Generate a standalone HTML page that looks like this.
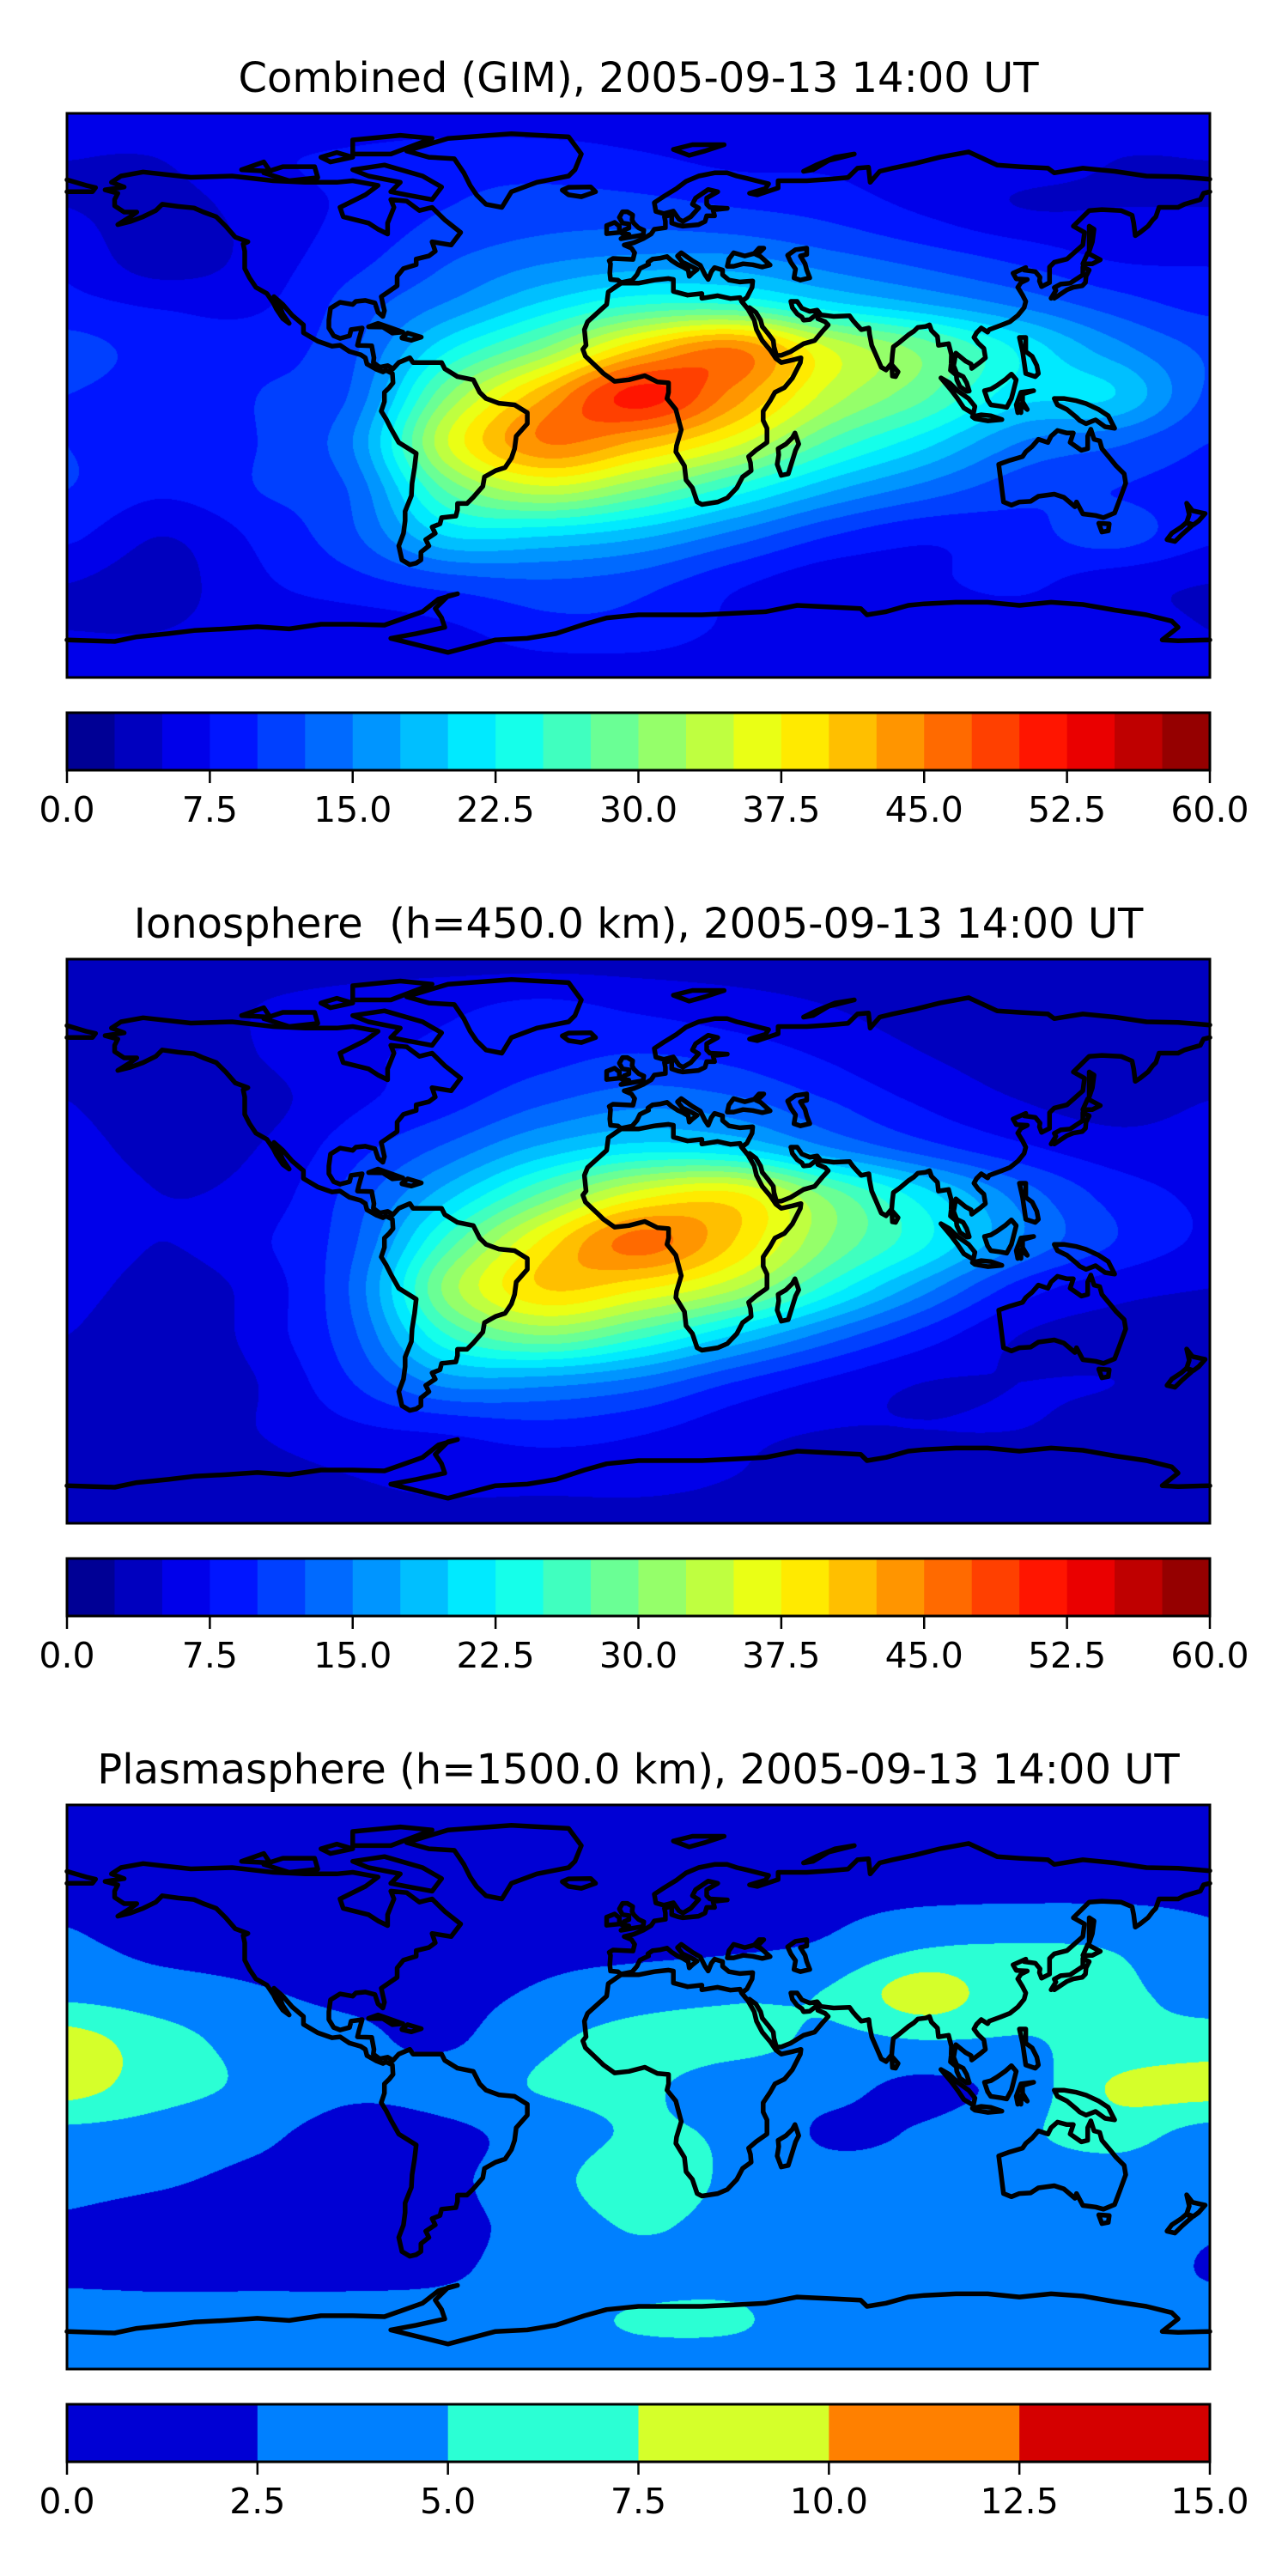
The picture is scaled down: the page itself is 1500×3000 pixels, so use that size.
<!DOCTYPE html>
<html><head><meta charset="utf-8">
<style>
html,body{margin:0;padding:0;background:#fff;}
body{width:1500px;height:3000px;position:relative;overflow:hidden;font-family:"DejaVu Sans","Liberation Sans",sans-serif;}
canvas{position:absolute;left:78px;}
svg{position:absolute;left:0;top:0;}
</style></head>
<body>
<canvas id="c0" width="1331" height="657" style="top:132px"></canvas>
<canvas id="c1" width="1331" height="657" style="top:1117px"></canvas>
<canvas id="c2" width="1331" height="657" style="top:2102px"></canvas>
<svg id="ov" width="1500" height="3000">
<text x="743.5" y="107" text-anchor="middle" font-size="48">Combined (GIM), 2005-09-13 14:00 UT</text>
<text x="743.5" y="1092" text-anchor="middle" font-size="48" xml:space="preserve">Ionosphere  (h=450.0 km), 2005-09-13 14:00 UT</text>
<text x="743.5" y="2077" text-anchor="middle" font-size="48">Plasmasphere (h=1500.0 km), 2005-09-13 14:00 UT</text>
</svg>
<script>
// grid lats 90..-90 step 15 (rows), lons -180..180 step 30 (cols)
const gridLats=[90,75,60,45,30,15,0,-15,-30,-45,-60,-75,-90];
const gridLons=[-180,-150,-120,-90,-60,-30,0,30,60,90,120,150,180];
const combinedTEC=[
[6,6,6,6,6,6,6,6,6,6,6,6,6],
[5,5,7,8,9,9,8,7,7,6,6,5,5],
[5,4,6,8,10,11,11,10,9,7,5,5,5],
[7,3,6,9,12,14,15,15,13,11,9,7,7],
[8,7,7,11,15,20,24,24,20,17,14,11,9],
[11,9,9,12,22,30,40,45,35,29,22,16,12],
[10,9,10,13,30,42,51,44,34,28,21,20,12],
[10,9,10,15,35,45,42,36,27,21,15,13,10],
[10,8,10,13,28,34,30,24,18,14,11,10,9],
[8,5,8,12,20,20,18,14,10,8,9,11,8],
[5,4,7,9,11,12,11,8,6,7,8,6,5],
[5,5,6,6,7,9,9,7,6,6,6,6,5],
[6,6,6,6,6,6,6,6,6,6,6,6,6]];
const ionoTEC=[
[4,4,4,4,4,4,4,4,4,4,4,4,4],
[4,4,5,6,7,8,7,6,5,4,4,4,4],
[4,3,5,7,8,9,10,9,7,5,4,3,4],
[5,3,4,7,9,12,14,13,10,7,5,4,5],
[6,4,5,9,13,18,21,20,15,11,8,6,6],
[7,5,6,11,19,28,36,38,29,21,14,9,7],
[7,5,7,12,26,38,46,40,30,23,15,10,7],
[6,4,6,13,31,40,38,33,24,16,9,6,5],
[5,3,6,12,25,30,26,20,14,9,5,4,4],
[4,3,5,10,16,16,14,10,7,5,5,5,4],
[3,3,5,7,8,9,8,6,5,5,5,4,3],
[3,3,4,5,6,6,6,5,4,4,3,3,3],
[4,4,4,4,4,4,4,4,4,4,4,4,4]];
const plasmaTEC=[
[1.5,1.5,1.5,1.5,1.5,1.5,1.5,1.5,1.5,1.5,1.5,1.5,1.5],
[1.5,1.5,1.5,1.5,1.5,1.5,1.5,1.5,1.5,1.5,1.5,1.5,1.5],
[2.2,2,2,2,2,2,2,2,2,2.2,2.3,2.3,2.2],
[2.8,2,1.8,1.5,1.5,2,2,2.2,2.8,4.8,5.1,4.8,3],
[4.3,3.5,2.7,2,1.8,2.8,3.8,4.5,5.2,8.8,5.5,5.5,4],
[8.5,6,4,3,2.2,4.5,6,6,4.5,5,4.9,5.5,6],
[8.5,6,4.5,3,3.5,5.2,5.5,3.5,3.2,2,3.5,7.8,8.5],
[4.3,3.8,3,1.5,2,3.5,5.3,4.5,2.2,2.8,4.5,6,4],
[3,2.7,2,1.5,2.1,4,6.5,4.5,3.5,3.5,3.5,3.7,3.5],
[2.3,1.8,1.5,1.5,2,3.3,5.2,4,3.2,3.2,3.5,3.5,2.7],
[2.2,2,2,2,2.3,3.5,4,4.2,3.5,3.5,3.5,3.5,2.4],
[3.5,3.5,3.5,3.5,3.5,3.8,5.3,5.3,3.5,3.5,3.5,3.5,3.5],
[3.5,3.5,3.5,3.5,3.5,3.5,3.5,3.5,3.5,3.5,3.5,3.5,3.5]];
const cbTicks60=["0.0","7.5","15.0","22.5","30.0","37.5","45.0","52.5","60.0"];
const cbTicks15=["0.0","2.5","5.0","7.5","10.0","12.5","15.0"];

const coast=[
[[-166,68],[-163,70],[-156,71.3],[-141,69.6],[-128,70],[-115,68.5],[-105,68],[-95,68],[-90,68.5],[-82,67],[-86,64],[-94,60],[-93,57],[-85,55],[-82,53],[-79,51.5],[-79,55],[-77,60],[-78,62.5],[-73,62],[-69,59],[-65,60],[-61,56],[-56,52],[-59,48],[-65,49],[-64,46],[-66,44.5],[-70,43.5],[-70,41.7],[-74,40.5],[-76,38],[-76,35],[-81,31.5],[-80,27],[-80.5,25.2],[-82,26.5],[-83,29.5],[-86,30.3],[-89,30],[-90,29],[-94,29.7],[-97,27.8],[-97.5,24],[-97.5,21.5],[-96,19],[-94,18.2],[-91,19],[-90.5,21],[-87,21.5],[-88,18],[-88.5,16],[-84,15.8],[-83.3,12],[-83.5,10.5],[-81.5,9],[-79,9.5],[-77.3,8.5],[-75.5,10.5],[-72,12],[-71,10.5],[-68,10.5],[-62,10.5],[-61,8.5],[-57,6],[-52,5],[-50,1],[-48,-1],[-44,-2.5],[-39,-3],[-35,-5.5],[-35,-9],[-38.5,-13],[-39,-17],[-40,-20],[-42,-23],[-45,-24],[-48.5,-26],[-49,-29],[-52,-32.5],[-54,-34.5],[-57,-34.5],[-57,-36.5],[-57.5,-38.5],[-62,-39],[-62.5,-41],[-65,-42],[-64,-44],[-67,-46],[-66,-48],[-68.5,-50],[-68.5,-52.5],[-70,-53.5],[-72,-54],[-74.5,-52.5],[-75.5,-48],[-74,-44],[-73.5,-40],[-73.5,-37],[-71.5,-32],[-71.3,-28],[-70.5,-23],[-70,-18.5],[-75.5,-15],[-78,-10.5],[-79.5,-7.5],[-81,-5],[-80,-2],[-80,1],[-78.5,2.5],[-77.3,4],[-77.5,7],[-79.5,8],[-80.5,7.5],[-82.5,8.3],[-85.5,10],[-86,12],[-87.5,13],[-91,14],[-94,16],[-96.5,15.7],[-101,17.3],[-105.5,20],[-105.5,22.5],[-109,25.5],[-112,29],[-114.8,31.5],[-113,28.5],[-112,26],[-110,23],[-112,24.5],[-114,27.5],[-115,29.5],[-117,32.5],[-120.5,34.5],[-122.5,37.5],[-124,40.5],[-124,46],[-124.5,48.3],[-123,49],[-127,50.5],[-130,54],[-133,57],[-137,58.5],[-140,59.8],[-145,60.3],[-150,61],[-152,59],[-156,57],[-160,55.5],[-164,54.5],[-160,57],[-158,58.5],[-162,58.5],[-165,60.5],[-165,62.5],[-164,64.5],[-168,65.6],[-162,66.5],[-166,68]],
[[-73,78],[-60,82],[-40,83.5],[-22,82.5],[-18,77],[-20,72],[-22,70],[-32,68],[-40,65],[-43,60],[-48,61],[-51,64],[-53,67],[-55,71],[-58,75.5],[-66,76],[-73,78]],
[[-80,73.5],[-68,70],[-62,66.5],[-65,62.5],[-73,64],[-78,65],[-75,68],[-85,70],[-90,72],[-80,73.5]],
[[-118,71],[-112,73],[-102,73],[-101,69.5],[-110,68.5],[-118,71]],
[[-90,77],[-78,77],[-65,82],[-75,83],[-90,81.5],[-90,77]],
[[-125,72],[-118,74.5],[-116,71.5],[-125,72]],
[[-100,76],[-95,77.5],[-90,76],[-97,74.5],[-100,76]],
[[-5.5,35.8],[-9.5,33],[-10,29],[-16,23.5],[-17,21],[-16.5,16],[-17.5,14.7],[-16.7,12.5],[-13,9],[-11,7],[-7.5,4.5],[-3,5],[2,6.3],[6,4.3],[9.5,4],[9.5,1],[9,-1],[11.8,-4.5],[12.3,-6.5],[13.5,-11],[12,-16],[11.8,-18],[14.5,-22.5],[15,-27],[17,-29.5],[18.5,-34],[20,-34.8],[25,-34],[28,-32.7],[31,-29.5],[32.8,-26],[35.5,-24],[35.3,-21.5],[34.7,-19.5],[37,-17.5],[40.5,-15],[40.5,-10.5],[39.3,-8],[39.3,-5],[41.5,-1.7],[43,1],[46,2.5],[48.5,5.5],[51,10.5],[51.2,12],[48.5,11.3],[45,10.5],[43.3,11.8],[41.5,14.5],[39,17.5],[37.2,21],[36.5,24],[34.5,27.5],[32.5,30],[32,31.2],[29,30.9],[25,31.8],[20,31],[20,32.5],[15.5,32],[11,33.2],[11,37],[9.5,37.3],[5,36.8],[0,35.8],[-5.5,35.8]],
[[32.5,30],[34.2,31.3],[35.8,34.5],[36,36.5],[32,36.2],[28.5,36.8],[26.5,38.5],[26.5,40],[24,40.8],[23,39.5],[22,37],[21,38.5],[19.5,41.5],[17,43],[13.5,45.5],[12.3,44.5],[13.9,42.5],[16,41.5],[18.5,40.2],[17,39],[16,38],[15.7,40],[14,41],[12.5,41.7],[10.5,43],[9,44.3],[7,43.8],[4.5,43.5],[3,42.5],[3.2,41.8],[0.5,40.5],[-0.5,38.5],[-2,36.7],[-5.5,36],[-6.5,36.8],[-8.8,37],[-9,39],[-8.8,42],[-9.2,43],[-8,43.7],[-1.7,43.4],[-1.2,45.5],[-2.2,47],[-4.5,48],[-1.5,48.7],[1.5,50],[4,51.5],[5,53],[8.5,53.5],[8.5,55.5],[8.2,57],[10.5,57.7],[10.5,55],[12.5,54.3],[14,54],[19,54.5],[21,55.5],[21.5,57.3],[24,57.3],[23.5,59.2],[28,59.7],[22.5,60],[21.5,61],[21.5,63],[25,65],[22,65.7],[18,63],[17,61],[19,59.8],[16.5,57],[14,55.5],[12.8,56.2],[11,58.8],[8,58],[5.5,58.7],[5,61.5],[8,63.5],[12,66],[15,68.3],[19,70],[24,71],[28,71],[31,70],[34,69.3],[41,67.5],[40,66],[35,64.5],[37.5,64],[44,66.2],[44,68.5],[53,68.5],[60,69],[66,69.5],[69,72.5],[72.5,72.8],[73,68],[76,71.5],[80,72.5],[87,74],[95,76],[104,77.7],[113,73.5],[120,73],[129,72.5],[131,71],[140,72.5],[150,71.5],[160,70],[170,69.8],[180,69]],
[[180,65],[178,64.5],[177,62.5],[172,61],[170,60],[164,60],[163,57],[162,56],[160.5,54],[158,52],[156.5,51],[156,55],[155.5,57.5],[152,59],[146,59.3],[142,59],[137,54],[140.5,52],[140,48],[135,43.5],[131,42.5],[129.5,41],[129.5,36],[127,34.7],[126.3,36.5],[126.5,37.7],[125,39.5],[121.5,40],[122,40.8],[118,39],[119,37.2],[122.5,37],[120.5,36],[119.5,34.5],[121,32],[122,30],[121.5,28],[119.5,25.5],[117,23.5],[114,22.3],[110.5,21],[110,20.2],[108,21.5],[106.5,20],[105.7,18.5],[107,16.7],[108.8,15],[109.3,12],[107.5,10.5],[105,8.6],[104.8,10],[103,11],[100,13.5],[99.3,9.5],[100.3,7],[102.3,6],[103.4,4],[104.2,1.4],[103.4,1.3],[101.3,2.8],[100.3,5],[100.1,6.5],[98.3,8],[98.5,10],[98.6,13],[97.7,16.5],[94.5,16],[94.2,18.8],[92.3,20.7],[91.7,22.5],[90.5,22],[88,21.7],[86.8,20.5],[85,19.3],[82.3,17],[80.3,15.5],[80,13],[79.8,10.3],[78,8.1],[76.5,9],[75,12.5],[73.5,16],[72.8,19.5],[72.6,21.5],[70.2,21],[68.8,22.5],[67.5,24],[66.5,25.4],[61.5,25.2],[57.5,25.7],[56.3,27.2],[54,26.8],[51.5,27.8],[50,30],[48,30],[48.5,28],[50,26],[51.5,25],[52,24],[54,24.2],[56.3,26],[56.5,24.5],[58.8,23.5],[59.8,22.5],[58,20.5],[55.5,17.5],[52,16.5],[48,14],[45,12.8],[43.5,12.7],[42.7,15.5],[42.5,17.5],[40.8,19.8],[39,22],[38.5,24],[37,26.5],[35,28],[34.3,27.8],[32.6,29.9]],
[[-180,68.8],[-174,67],[-171,66.3],[-172,65],[-177,65],[-180,65]],
[[28,41.2],[28.5,43.5],[30,45.5],[33.5,44.5],[36.5,45.3],[38,47],[39.5,47],[38,45.5],[37,45],[38.5,44.3],[41.5,41.6],[39,41],[36,41.7],[33,42],[30,41.2],[28,41.2]],
[[47,44.7],[49.5,46.5],[53,47],[53,45],[51,44.5],[52.5,42],[53,40],[54,37.5],[51,36.8],[49,37.5],[49.5,40.3],[48,42.5],[47,44.7]],
[[-5.5,50],[1.5,51.2],[1.7,52.7],[0,53.5],[-1.5,55],[-2,56],[-1.8,57.6],[-3.5,58.6],[-5,58.6],[-6,56.8],[-5,55],[-3,54.7],[-3,53.4],[-4.5,52.8],[-5.2,51.7],[-3,51.4],[-5.5,50]],
[[-6,52],[-6,54],[-7.5,55.2],[-10,54.2],[-10,51.6],[-6,52]],
[[-22,64],[-24,65.5],[-22,66.4],[-15,66.5],[-13.5,65],[-18,63.4],[-22,64]],
[[11,78.5],[17,80],[27,80],[21,78],[16,76.6],[11,78.5]],
[[52,71.5],[56,73.5],[62,76],[68,77],[60,75],[55,72],[52,71.5]],
[[130,31],[131.5,33.5],[131,34.4],[133,35.5],[136,35.8],[140,38.5],[140,41],[142,40],[141,38],[140.8,36],[139.8,35],[137,34.5],[135,33.7],[131,31]],
[[140,42],[141.5,45.4],[145.5,43.3],[143,42],[140,42]],
[[142,46],[142,54],[143.5,53],[143,49],[142,46]],
[[120,18.5],[122,18.5],[122,14],[124,12.5],[125.5,9.5],[126,7],[125,6],[122,7],[121,14],[120,18.5]],
[[95.3,5.6],[98,4],[100.5,1.5],[104,-1],[106,-3.5],[105.5,-5.8],[102.5,-4],[100.5,-1],[98.5,1.7],[95.3,5.6]],
[[105.2,-6.8],[108,-6.2],[111,-6.5],[114.5,-7.7],[110,-8.1],[106,-7.4],[105.2,-6.8]],
[[109,1.5],[111,2],[113,3.2],[115.5,5],[117.5,6.8],[119,5],[118,1],[117.5,-1],[116,-3.8],[114.5,-3.5],[111,-3],[110,-1.5],[109,1.5]],
[[119.5,-5.5],[119,-3],[120.5,1],[124.5,1.5],[121,0.5],[121,-2],[122.5,-4.5],[120.5,-2.8],[120.5,-5.5]],
[[131,-1],[134,-1],[138,-1.7],[141,-2.6],[145,-4.5],[148,-6.5],[150,-10.5],[147,-10],[144,-7.8],[141,-9],[139,-8],[138,-7],[135,-4.5],[132,-3],[131,-1]],
[[113.5,-22],[114,-26],[115,-34],[117.5,-35],[120,-34],[123.5,-33.8],[126,-32.2],[131,-31.5],[134,-32.5],[137.5,-35.5],[138,-34],[140,-37.8],[144,-38.3],[146.5,-39],[150,-37.5],[151.5,-33.5],[153.5,-28],[153,-25],[150.5,-22.5],[148.5,-20],[146,-17],[145.3,-14.5],[143.5,-14],[142.5,-10.8],[141.5,-13],[141.5,-17],[139.5,-17.5],[136,-15],[137,-12],[135,-12],[132,-11.2],[130,-13],[129,-15],[126,-14],[124,-16.3],[122,-18],[121,-19.5],[117,-20.7],[114,-21.8],[113.5,-22]],
[[145,-40.8],[148.3,-41],[148,-43.2],[146,-43.6],[145,-40.8]],
[[172.7,-34.4],[174.5,-36.8],[178.5,-37.7],[176.5,-40],[174.8,-41.3],[172.7,-40.5],[173.5,-38],[172.7,-34.4]],
[[172.7,-40.5],[174.2,-41.7],[171.3,-44.3],[169,-46.6],[166.5,-46],[168,-44],[171,-42],[172.7,-40.5]],
[[49.3,-12],[50.5,-15.5],[49.5,-17.5],[47.2,-25],[45,-25.5],[43.7,-22],[44.2,-19],[44,-17],[46.5,-15.5],[48.5,-13.5],[49.3,-12]],
[[79.8,9.8],[81.8,7.5],[81,6],[80,6.2],[79.8,9.8]],
[[-85,21.9],[-82,23],[-77,21.2],[-74.2,20.2],[-77.5,19.9],[-80.5,21.8],[-85,21.9]],
[[-74.5,18.5],[-72.7,19.9],[-68.4,18.6],[-71.5,17.6],[-74.5,18.3]],
[[-180,-78],[-165,-78.5],[-158,-77],[-148,-76],[-140,-75],[-130,-74.5],[-120,-73.8],[-110,-74.5],[-100,-73],[-90,-73],[-80,-73.3],[-75,-71.5],[-68,-69],[-63,-65],[-57,-63.3],[-60,-64],[-62,-66],[-64,-68],[-62,-71],[-61,-74],[-70,-76],[-78,-77.5],[-60,-82],[-45,-78],[-35,-77.5],[-26,-76],[-17,-73],[-10,-71],[0,-70],[10,-70],[20,-70],[30,-69.5],[40,-69],[50,-67],[60,-67.5],[70,-68],[72,-70],[78,-69],[85,-67],[90,-66.5],[100,-66],[110,-66],[120,-67],[130,-66],[140,-66.7],[150,-68.5],[160,-70],[168,-72],[170,-74],[165,-78],[170,-78.3],[180,-78]]
];

const MAPX=78,MAPW=1331,MAPH=657;
const panels=[
 {id:'c0',top:132,cbTop:830,data:combinedTEC,vmax:60,n:24,ticks:cbTicks60,name:'combined'},
 {id:'c1',top:1117,cbTop:1815,data:ionoTEC,vmax:60,n:24,ticks:cbTicks60,name:'ionosphere'},
 {id:'c2',top:2102,cbTop:2800,data:plasmaTEC,vmax:15,n:6,ticks:cbTicks15,name:'plasmasphere'}
];
function jet(t){
  function cl(v){return Math.max(0,Math.min(1,v));}
  const r=cl(Math.min(4*t-1.5,-4*t+4.5));
  const g=cl(Math.min(4*t-0.5,-4*t+3.5));
  const b=cl(Math.min(4*t+0.5,-4*t+2.5));
  return [Math.round(r*255),Math.round(g*255),Math.round(b*255)];
}
function cr(p0,p1,p2,p3,t){
  return 0.5*((2*p1)+(-p0+p2)*t+(2*p0-5*p1+4*p2-p3)*t*t+(-p0+3*p1-3*p2+p3)*t*t*t);
}
function sample(g,r,c){
  const R=g.length,C=g[0].length;
  r=Math.max(0,Math.min(R-1,r));c=Math.max(0,Math.min(C-1,c));
  return g[r][c];
}
function interp(g,fr,fc){
  const r=Math.floor(fr),c=Math.floor(fc),tr=fr-r,tc=fc-c;
  const rows=[];
  for(let i=-1;i<=2;i++){
    rows.push(cr(sample(g,r+i,c-1),sample(g,r+i,c),sample(g,r+i,c+1),sample(g,r+i,c+2),tc));
  }
  return cr(rows[0],rows[1],rows[2],rows[3],tr);
}
const svg=document.getElementById('ov');
const NS='http://www.w3.org/2000/svg';
function mk(tag,attrs){const e=document.createElementNS(NS,tag);for(const k in attrs)e.setAttribute(k,attrs[k]);return e;}
panels.forEach(function(p){
  const cv=document.getElementById(p.id);const ctx=cv.getContext('2d');
  const img=ctx.createImageData(MAPW,MAPH);
  const step=p.vmax/p.n;
  const pal=[];for(let i=0;i<p.n;i++)pal.push(jet((i+0.5)/p.n));
  const nr=gridLats.length-1,nc=gridLons.length-1;
  for(let y=0;y<MAPH;y++){
    const fr=(y+0.5)/MAPH*nr;
    for(let x=0;x<MAPW;x++){
      const fc=(x+0.5)/MAPW*nc;
      const v=interp(p.data,fr,fc);
      let li=Math.floor(v/step);li=Math.max(0,Math.min(p.n-1,li));
      const col=pal[li];const o=(y*MAPW+x)*4;
      img.data[o]=col[0];img.data[o+1]=col[1];img.data[o+2]=col[2];img.data[o+3]=255;
    }
  }
  ctx.putImageData(img,0,0);
  const g=mk('g',{fill:'none',stroke:'#000','stroke-width':'5.5','stroke-linejoin':'round','stroke-linecap':'round'});
  
  
  coast.forEach(function(line){
    const pts=line.map(function(q){return (MAPX+(q[0]+180)/360*MAPW).toFixed(1)+','+(p.top+(90-q[1])/180*MAPH).toFixed(1);}).join(' ');
    const pl=mk('polyline',{points:pts});
    
    
    g.appendChild(pl);
  });
  svg.appendChild(g);
  const fr=mk('rect',{x:MAPX,y:p.top,width:MAPW,height:MAPH,fill:'none',stroke:'#000','stroke-width':'3'});
  
  
  svg.appendChild(fr);
  const cbH=67,sw=MAPW/p.n;
  for(let i=0;i<p.n;i++){
    const c=pal[i];
    const r=mk('rect',{x:(MAPX+i*sw).toFixed(2),y:p.cbTop,width:(sw+0.6).toFixed(2),height:cbH,fill:'rgb('+c[0]+','+c[1]+','+c[2]+')'});
    
    
    svg.appendChild(r);
  }
  const cb=mk('rect',{x:MAPX,y:p.cbTop,width:MAPW,height:cbH,fill:'none',stroke:'#000','stroke-width':'3'});
  
  
  svg.appendChild(cb);
  const nt=p.ticks.length;
  p.ticks.forEach(function(lab,i){
    const x=MAPX+i*MAPW/(nt-1);
    const t=mk('line',{x1:x,x2:x,y1:p.cbTop+cbH,y2:p.cbTop+cbH+15,stroke:'#000','stroke-width':'2.5'});
    
    
    svg.appendChild(t);
    const tx=mk('text',{x:x,y:p.cbTop+cbH+60,'text-anchor':'middle','font-size':'41'});
    tx.textContent=lab;
    
    
    svg.appendChild(tx);
  });
});
</script>
</body></html>
